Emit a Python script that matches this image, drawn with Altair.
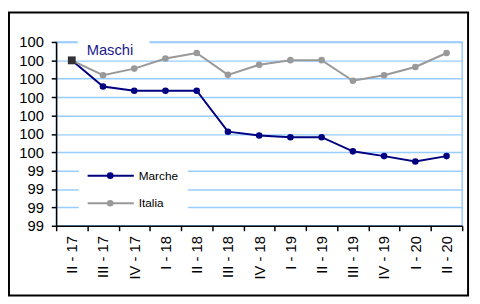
import altair as alt
import pandas as pd

quarters = ["II - 17", "III - 17", "IV - 17", "I - 18", "II - 18", "III - 18", "IV - 18",
            "I - 19", "II - 19", "III - 19", "IV - 19", "I - 20", "II - 20"]
marche = [100.0, 99.858, 99.835, 99.835, 99.835, 99.612, 99.591, 99.582, 99.582,
          99.505, 99.479, 99.450, 99.479]
italia = [100.0, 99.919, 99.955, 100.010, 100.040, 99.921, 99.976, 100.001, 100.001,
          99.889, 99.919, 99.964, 100.040]
series_names = ["Marche", "Italia"]
series_colors = ["#000080", "#999999"]
y_ticks = [99.1, 99.2, 99.3, 99.4, 99.5, 99.6, 99.7, 99.8, 99.9, 100.0, 100.1]
title_text = "Maschi"

rows = []
for i, q in enumerate(quarters):
    rows.append({"quarter": q, "idx": i, "series": "Marche", "value": marche[i]})
    rows.append({"quarter": q, "idx": i, "series": "Italia", "value": italia[i]})
df = pd.DataFrame(rows)
one = pd.DataFrame({"k": [0]})

W, H = 413, 187
FONT = "Liberation Sans"

x_enc = alt.X("quarter:O", sort=quarters,
              scale=alt.Scale(type="band", paddingInner=0, paddingOuter=0),
              axis=alt.Axis(title=None, labelAngle=270, tickBand="extent", labelFontSize=15,
                            labelPadding=5, tickSize=5, domainColor="black", tickColor="black",
                            domainWidth=1.5, tickWidth=1.5, labelColor="black", grid=False,
                            labelFont=FONT))
y_enc = alt.Y("value:Q", scale=alt.Scale(domain=[99.1, 100.1], nice=False, zero=False),
              axis=alt.Axis(title=None, values=y_ticks, format=".0f", grid=True,
                            gridColor="#99ccff", gridWidth=1.5, labelFontSize=15,
                            labelPadding=8, tickSize=5, domainColor="black", tickColor="black",
                            domainWidth=1.5, tickWidth=1.5, labelColor="black", labelFont=FONT))
color_enc = alt.Color("series:N", scale=alt.Scale(domain=series_names, range=series_colors),
                      legend=None)

frame = alt.Chart(one).mark_rect(fill=None, stroke="black", strokeWidth=2).encode(
    x=alt.value(-48), x2=alt.value(419), y=alt.value(-30), y2=alt.value(258))

base = alt.Chart(df).encode(x=x_enc, y=y_enc, color=color_enc,
                            detail="series:N")

lines = base.mark_line(strokeWidth=2)
points = base.mark_circle(size=45, opacity=1).transform_filter("datum.idx > 0")
first = base.mark_square(size=64, opacity=1, color="#333333").encode(
    color=alt.value("#333333")).transform_filter("datum.idx == 0 && datum.series == 'Marche'")

title_bg = alt.Chart(one).mark_rect(fill="white").encode(
    x=alt.value(22), x2=alt.value(95), y=alt.value(-5), y2=alt.value(15))
title = alt.Chart(one).mark_text(text=title_text, align="left", baseline="middle",
                                 fontSize=15, font=FONT, color="#1a1a8c").encode(
    x=alt.value(31), y=alt.value(8))

legend_bg = alt.Chart(one).mark_rect(fill="white").encode(
    x=alt.value(23), x2=alt.value(134), y=alt.value(115), y2=alt.value(178))

legend_layers = []
for i, (name, col) in enumerate(zip(series_names, series_colors)):
    yy = 136 + i * 28
    legend_layers.append(alt.Chart(one).mark_rule(color=col, strokeWidth=2).encode(
        x=alt.value(32), x2=alt.value(79), y=alt.value(yy)))
    legend_layers.append(alt.Chart(one).mark_circle(color=col, size=45, opacity=1).encode(
        x=alt.value(55), y=alt.value(yy)))
    legend_layers.append(alt.Chart(one).mark_text(text=name, align="left", baseline="middle",
                                                  fontSize=12, font=FONT, color="black").encode(
        x=alt.value(84), y=alt.value(yy)))

chart = alt.layer(frame, lines, points, first, title_bg, title, legend_bg,
                  *legend_layers).properties(
    width=W, height=H,
    padding={"left": 49, "top": 32, "right": 10, "bottom": 77},
    autosize=alt.AutoSizeParams(type="none"),
    background="white",
).configure_view(stroke="#99ccff", strokeWidth=1.5)

chart.save("out.html", embed_options={"renderer": "svg", "actions": False})
